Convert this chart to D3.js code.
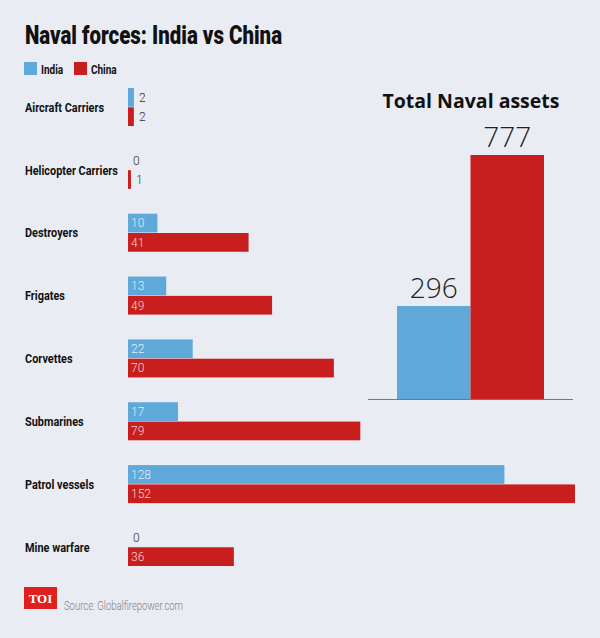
<!DOCTYPE html>
<html><head><meta charset="utf-8">
<script src="https://cdn.jsdelivr.net/npm/d3@7"></script>
<style>
html,body{margin:0;padding:0;background:#e9ecf3;}
svg{display:block;}
.cond{font-family:Roboto,"Liberation Sans",sans-serif;}
</style>
</head><body>
<svg id="chart" width="600" height="638"></svg>
<script>
const categories = ["Aircraft Carriers","Helicopter Carriers","Destroyers","Frigates","Corvettes","Submarines","Patrol vessels","Mine warfare"];
const series = ["India","China"];
const indiaValues = [2,0,10,13,22,17,128,0];
const chinaValues = [2,1,41,49,70,79,152,36];
const totalValues = [296,777];
const colors = ["#5ea9d9","#c81f1e"];

const svg = d3.select("#chart");
svg.append("rect").attr("width",600).attr("height",638).attr("fill","#e9ecf3");

// Title
svg.append("text").attr("class","cond").attr("x",25).attr("y",44)
  .attr("font-size",25).attr("font-weight",900).attr("fill","#111")
  .attr("textLength",257).attr("lengthAdjust","spacingAndGlyphs")
  .text("Naval forces: India vs China");

// Legend
const leg = svg.append("g");
const legX = [24,74];
series.forEach((s,i)=>{
  leg.append("rect").attr("x",legX[i]).attr("y",62).attr("width",13).attr("height",13).attr("fill",colors[i]);
  leg.append("text").attr("class","cond")
    .attr("transform",`translate(${legX[i]+17},73.5) scale(0.8,1)`)
    .attr("font-size",12.5).attr("font-weight",700).attr("fill","#111").text(s);
});

// Horizontal bars
const x = d3.scaleLinear().domain([0,152]).range([128,575]);
const y = d3.scaleBand().domain(categories).range([75.6,578.4]).paddingInner(0.395).paddingOuter(0.1975);
const ys = d3.scaleBand().domain(series).range([0,y.bandwidth()]).paddingInner(0.03);

const data = categories.map((c,i)=>({cat:c, vals:[indiaValues[i],chinaValues[i]]}));
const groups = svg.append("g").selectAll("g").data(data).join("g")
  .attr("transform",d=>`translate(0,${y(d.cat)})`);

const catLabels = groups.append("text").attr("class","cond")
  .attr("dy","0.35em")
  .attr("font-size",13.5).attr("font-weight",700).attr("fill","#111")
  .text(d=>d.cat);
// condense to match reference width of the longest label (~93px)
const refW = catLabels.filter(d=>d.cat==="Helicopter Carriers").node().getComputedTextLength();
const f = 93/refW;
catLabels.attr("transform",`translate(25,${y.bandwidth()/2}) scale(${f},1)`);

groups.each(function(d){
  const g = d3.select(this);
  series.forEach((s,i)=>{
    const v = d.vals[i];
    if (v>0) {
      g.append("rect").attr("x",x(0)).attr("y",ys(s))
        .attr("width",x(v)-x(0)).attr("height",ys.bandwidth()).attr("fill",colors[i]);
    }
    const inside = v>=5;
    g.append("text").attr("x", inside ? x(0)+3 : x(v)+5)
      .attr("y", ys(s)+ys.bandwidth()/2).attr("dy","0.36em")
      .attr("font-family","Roboto, 'Open Sans', sans-serif").attr("font-weight",300)
      .attr("font-size",12)
      .attr("fill", inside ? (i===0 ? "#e2eef8" : "#f3d6d6") : "#333")
      .text(v);
  });
});

// Total Naval assets
const tx = d3.scaleBand().domain(series).range([397,544]).padding(0);
const ty = d3.scaleLinear().domain([0,777]).range([399,155]);
svg.append("text").attr("x",471).attr("y",108).attr("text-anchor","middle")
  .attr("font-family","'Open Sans', 'Noto Sans', sans-serif").attr("font-weight","bold")
  .attr("font-size",19.5).attr("fill","#111").text("Total Naval assets");
series.forEach((s,i)=>{
  svg.append("rect").attr("x",tx(s)).attr("y",ty(totalValues[i]))
    .attr("width",tx.bandwidth()).attr("height",ty(0)-ty(totalValues[i])).attr("fill",colors[i]);
  svg.append("text").attr("x",tx(s)+tx.bandwidth()/2).attr("y",ty(totalValues[i])-8)
    .attr("text-anchor","middle").attr("font-family","'Open Sans', Roboto, sans-serif")
    .attr("font-weight",300).attr("font-size",28).attr("fill","#222").text(totalValues[i]);
});
svg.append("line").attr("x1",368).attr("x2",573).attr("y1",399.5).attr("y2",399.5)
  .attr("stroke","#777").attr("stroke-width",1);

// Footer
svg.append("rect").attr("x",24).attr("y",587).attr("width",33).attr("height",22).attr("fill","#e0201d");
svg.append("text").attr("x",40.5).attr("y",603).attr("text-anchor","middle")
  .attr("font-family","'Liberation Serif', 'DejaVu Serif', serif").attr("font-weight","bold")
  .attr("font-size",13).attr("fill","#fff").text("TOI");
svg.append("text").attr("class","cond").attr("x",64).attr("y",610)
  .attr("font-size",12).attr("font-weight",300).attr("fill","#7f8288").text("Source: Globalfirepower.com")
  .attr("textLength",119).attr("lengthAdjust","spacingAndGlyphs");
</script>
</body></html>
